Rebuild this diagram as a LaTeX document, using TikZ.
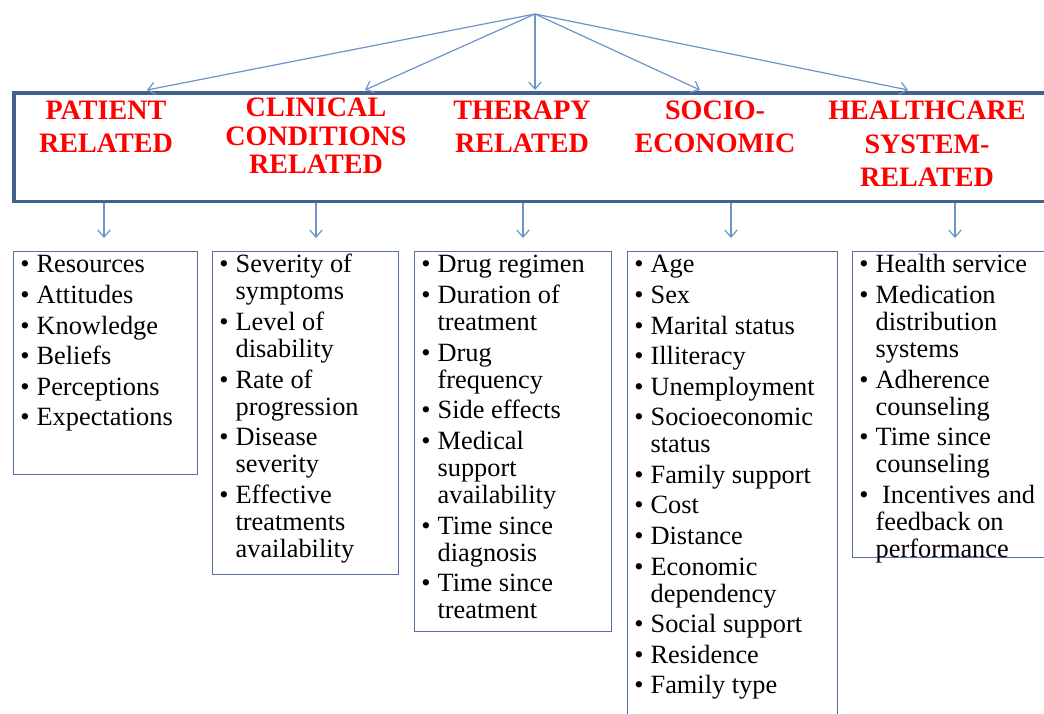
\documentclass[tikz,border=0pt]{standalone}
\usepackage{fontspec}
\setmainfont{Liberation Serif}
\usetikzlibrary{arrows.meta,positioning}

\definecolor{frameblue}{HTML}{41628F}
\definecolor{arrowblue}{HTML}{6E95C9}
\definecolor{listblue}{HTML}{5471A1}

% one bullet point, lines of the point split by \\
\newcommand\entry[1]{\textbullet & \begin{tabular}[t]{@{}l@{}}#1\end{tabular}\\\noalign{\vskip 2pt}}

\begin{document}
\begin{tikzpicture}[x=0.02cm,y=-0.02cm]
\tikzset{
	head/.style = {text=red, font=\fontsize{16}{19}\selectfont\bfseries, align=center, inner sep=0},
	listbox/.style = {draw=listblue, line width=0.8pt, anchor=north west, inner sep=0},
	items/.style = {anchor=north west, inner xsep=4pt, inner ysep=1.5pt, font=\fontsize{15}{15.4}\selectfont},
	link/.style = {draw=arrowblue, line width=0.7pt, -{Straight Barb[length=4pt,width=7pt]}}
}
\useasboundingbox (0,0) rectangle (1044,713);
\clip (0,0) rectangle (1044,713);

% category band
\node[draw=frameblue, line width=2pt, anchor=north west, minimum width=21cm, minimum height=2.18cm, inner sep=0] (cat) at (12,91) {};

\node[head] (patient) at (106,127) {PATIENT\\RELATED};
\node[head, font=\fontsize{16}{16.3}\selectfont\bfseries] (clinical) at (316,136) {CLINICAL\\CONDITIONS\\RELATED};
\node[head] (therapy) at (522,127) {THERAPY\\RELATED};
\node[head] (socio) at (715,127) {SOCIO-\\ECONOMIC};
\node[head] (system) at (927,144) {HEALTHCARE\\SYSTEM-\\RELATED};

% arrows into the band
\coordinate (apex) at (535,14);
\foreach \x [count=\i] in {147,365,535,700,908}
	\coordinate (t\i) at (\x,90);
\foreach \i in {1,...,5}
	\draw[link] (apex) -- (t\i);

% arrows down to the lists
\foreach \x [count=\i] in {104,316,523,731,955}{
	\coordinate (b\i) at (\x,238);
	\draw[link] (b\i |- cat.south) -- (b\i);
}

% factor lists
\node[listbox, minimum width=3.68cm, minimum height=4.46cm] (box1) at (13,251) {};
\node[items] (list1) at (box1.north west) {\begin{tabular}{@{}l@{\hspace{4pt}}l@{}}
	\entry{Resources}
	\entry{Attitudes}
	\entry{Knowledge}
	\entry{Beliefs}
	\entry{Perceptions}
	\entry{Expectations}
\end{tabular}};

\node[listbox, minimum width=3.72cm, minimum height=6.46cm] (box2) at (212,251) {};
\node[items] (list2) at (box2.north west) {\begin{tabular}{@{}l@{\hspace{4pt}}l@{}}
	\entry{Severity of\\symptoms}
	\entry{Level of\\disability}
	\entry{Rate of\\progression}
	\entry{Disease\\severity}
	\entry{Effective\\treatments\\availability}
\end{tabular}};

\node[listbox, minimum width=3.94cm, minimum height=7.6cm] (box3) at (414,251) {};
\node[items] (list3) at (box3.north west) {\begin{tabular}{@{}l@{\hspace{4pt}}l@{}}
	\entry{Drug regimen}
	\entry{Duration of\\treatment}
	\entry{Drug\\frequency}
	\entry{Side effects}
	\entry{Medical\\support\\availability}
	\entry{Time since\\diagnosis}
	\entry{Time since\\treatment}
\end{tabular}};

\node[listbox, minimum width=4.2cm, minimum height=9.7cm] (box4) at (627,251) {};
\node[items] (list4) at (box4.north west) {\begin{tabular}{@{}l@{\hspace{4pt}}l@{}}
	\entry{Age}
	\entry{Sex}
	\entry{Marital status}
	\entry{Illiteracy}
	\entry{Unemployment}
	\entry{Socioeconomic\\status}
	\entry{Family support}
	\entry{Cost}
	\entry{Distance}
	\entry{Economic\\dependency}
	\entry{Social support}
	\entry{Residence}
	\entry{Family type}
\end{tabular}};

\node[listbox, minimum width=4.3cm, minimum height=6.12cm] (box5) at (852,251) {};
\node[items] (list5) at (box5.north west) {\begin{tabular}{@{}l@{\hspace{4pt}}l@{}}
	\entry{Health service}
	\entry{Medication\\distribution\\systems}
	\entry{Adherence\\counseling}
	\entry{Time since\\counseling}
	\entry{\ Incentives and\\feedback on\\performance}
\end{tabular}};
\end{tikzpicture}
\end{document}
